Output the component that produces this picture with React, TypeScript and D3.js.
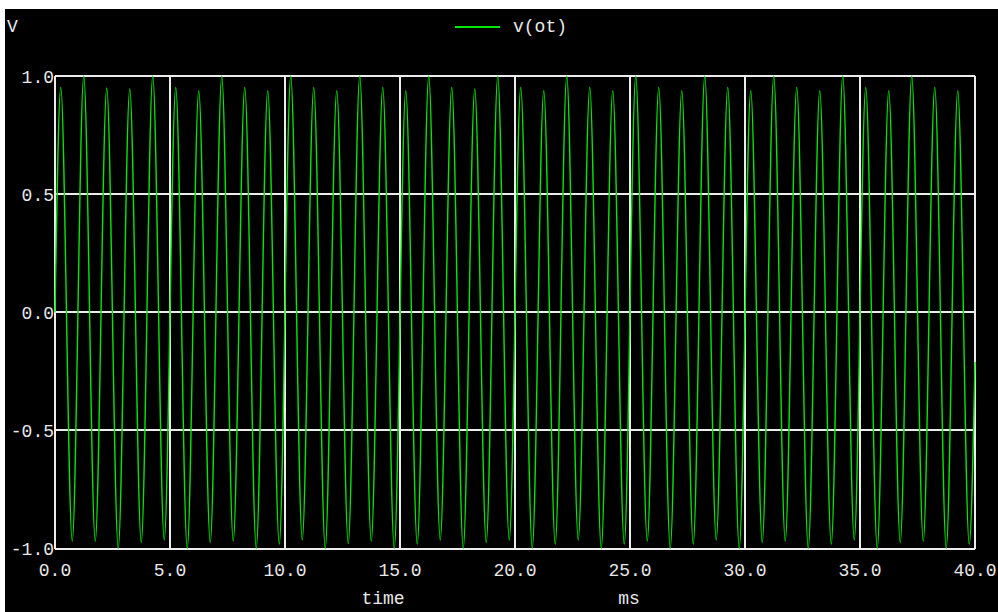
import React from "react";
import * as d3 from "d3";

// ---- data ----
const xTicks = [0, 5, 10, 15, 20, 25, 30, 35, 40];
const xTickLabels = ["0.0", "5.0", "10.0", "15.0", "20.0", "25.0", "30.0", "35.0", "40.0"];
const yTicks = [-1, -0.5, 0, 0.5, 1];
const yTickLabels = ["-1.0", "-0.5", "0.0", "0.5", "1.0"];

const seriesName = "v(ot)";
const xTitle = "time";
const xUnit = "ms";
const yUnit = "V";

// start / end samples (ms, V)
const startPoint: [number, number] = [0, 0];
const endPoint: [number, number] = [40, -0.21];

// positive peaks of each cycle (ms, V)
const peakTimes = [
  0.25, 1.25, 2.25, 3.25, 4.25, 5.25, 6.25, 7.25, 8.25, 9.25,
  10.25, 11.25, 12.25, 13.25, 14.25, 15.25, 16.25, 17.25, 18.25, 19.25,
  20.25, 21.25, 22.25, 23.25, 24.25, 25.25, 26.25, 27.25, 28.25, 29.25,
  30.25, 31.25, 32.25, 33.25, 34.25, 35.25, 36.25, 37.25, 38.25, 39.25,
];
const peakValues = [
  0.952, 1.0, 0.949, 0.945, 1.0, 0.952, 0.938, 1.0, 0.952, 0.938,
  1.0, 0.952, 0.938, 1.0, 0.952, 0.938, 1.0, 0.952, 0.945, 1.0,
  0.952, 0.938, 1.0, 0.952, 0.938, 1.0, 0.952, 0.938, 1.0, 0.952,
  0.938, 1.0, 0.952, 0.938, 1.0, 0.952, 0.938, 1.0, 0.952, 0.938,
];

// negative troughs of each cycle (ms, V)
const troughTimes = [
  0.75, 1.75, 2.75, 3.75, 4.75, 5.75, 6.75, 7.75, 8.75, 9.75,
  10.75, 11.75, 12.75, 13.75, 14.75, 15.75, 16.75, 17.75, 18.75, 19.75,
  20.75, 21.75, 22.75, 23.75, 24.75, 25.75, 26.75, 27.75, 28.75, 29.75,
  30.75, 31.75, 32.75, 33.75, 34.75, 35.75, 36.75, 37.75, 38.75, 39.75,
];
const troughValues = [
  -0.969, -0.969, -1.0, -0.975, -0.964, -1.0, -0.975, -0.969, -1.0, -0.982,
  -0.964, -1.0, -0.979, -0.969, -1.0, -0.982, -0.964, -1.0, -0.975, -0.964,
  -1.0, -0.982, -0.964, -1.0, -0.982, -0.969, -1.0, -0.982, -0.964, -1.0,
  -0.975, -0.969, -1.0, -0.982, -0.964, -1.0, -0.975, -0.969, -1.0, -0.982,
];

const W = 998;
const H = 612;
const FONT = "'Liberation Mono', 'DejaVu Sans Mono', monospace";
const GRID = "#ececec";
const TEXT = "#e8e8e8";
const GREEN = "#00e800";

export default function App() {
  const x = d3.scaleLinear().domain([0, 40]).range([55, 975]);
  const y = d3.scaleLinear().domain([-1, 1]).range([548.5, 76]);

  const pts: [number, number][] = [startPoint];
  peakTimes.forEach((t, i) => {
    pts.push([t, peakValues[i]]);
    pts.push([troughTimes[i], troughValues[i]]);
  });
  pts.push(endPoint);

  const line = d3
    .line<[number, number]>()
    .x((d) => x(d[0]))
    .y((d) => y(d[1]))
    .curve(d3.curveMonotoneX);

  const [x0, x1] = x.range();
  const [yb, yt] = y.range();

  return (
    <div style={{ position: "fixed", left: 0, top: 0, width: W, height: H }}>
      <svg width={W} height={H} style={{ display: "block" }}>
        <rect x={0} y={0} width={W} height={H} fill="#ffffff" />
        <rect x={5} y={9} width={W - 5} height={H - 9} fill="#000000" />

        {/* grid */}
        <g stroke={GRID} strokeWidth={2} shapeRendering="crispEdges">
          {xTicks.map((t) => (
            <line key={"gx" + t} x1={x(t)} x2={x(t)} y1={yt} y2={yb} />
          ))}
          {yTicks.map((t) => (
            <line key={"gy" + t} x1={x0} x2={x1} y1={y(t)} y2={y(t)} />
          ))}
        </g>

        {/* waveform */}
        <path
          d={line(pts) || ""}
          fill="none"
          stroke={GREEN}
          strokeWidth={1.4}
          strokeLinejoin="miter"
          strokeMiterlimit={2}
        />

        {/* labels */}
        <g fill={TEXT} fontFamily={FONT} fontSize={18}>
          {yTicks.map((t, i) => (
            <text key={"yl" + t} x={54} y={y(t) + 6.5} textAnchor="end">
              {yTickLabels[i]}
            </text>
          ))}
          {xTicks.map((t, i) => (
            <text key={"xl" + t} x={x(t)} y={576} textAnchor="middle">
              {xTickLabels[i]}
            </text>
          ))}
          <text x={383} y={604} textAnchor="middle">{xTitle}</text>
          <text x={629} y={604} textAnchor="middle">{xUnit}</text>
          <text x={12.5} y={32} textAnchor="middle">{yUnit}</text>
          <text x={513} y={32}>{seriesName}</text>
        </g>

        {/* legend swatch */}
        <line x1={455} x2={500} y1={27} y2={27} stroke={GREEN} strokeWidth={2} shapeRendering="crispEdges" />
      </svg>
    </div>
  );
}
